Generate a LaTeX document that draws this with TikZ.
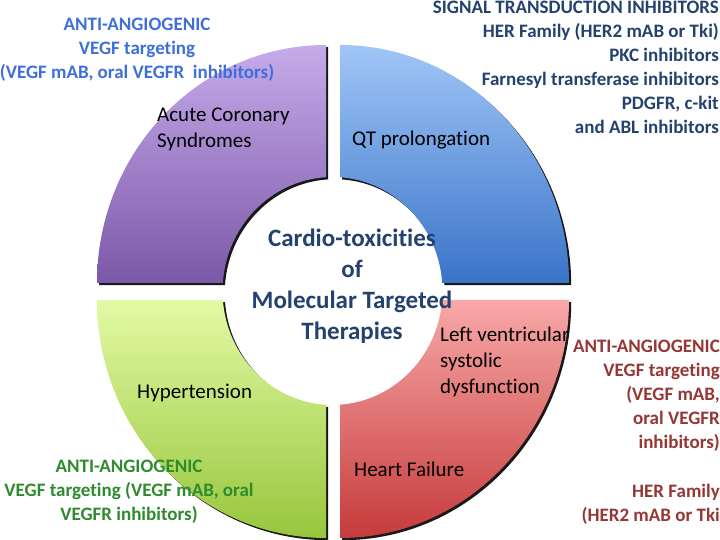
\documentclass[tikz,border=0pt]{standalone}
\usepackage{fontspec}
\setmainfont{Carlito}[Ligatures=NoCommon]
\usepackage{xcolor}
\usetikzlibrary{shadows}
\definecolor{purpletop}{HTML}{C6ABEA}
\definecolor{purplebot}{HTML}{7B58A8}
\definecolor{bluetop}{HTML}{A0C6F7}
\definecolor{bluebot}{HTML}{3A74C8}
\definecolor{greentop}{HTML}{E3FAA4}
\definecolor{greenbot}{HTML}{97C63D}
\definecolor{redtop}{HTML}{F8A8A8}
\definecolor{redbot}{HTML}{C63B3B}
\definecolor{vegfblue}{HTML}{3F6FD8}
\definecolor{navytext}{HTML}{24426E}
\definecolor{vegfgreen}{HTML}{2E8B2E}
\definecolor{vegfred}{HTML}{953735}

\begin{document}
\begin{tikzpicture}[x=1pt, y=1pt,
    quad/.style 2 args={top color=#1, bottom color=#2,
      drop shadow={shadow xshift=2.2pt, shadow yshift=-2.2pt, fill=black, opacity=.9}},
    effect/.style={font=\fontsize{21}{26}\selectfont, align=left, anchor=west, inner sep=0pt},
    drug/.style={font=\bfseries\fontsize{19}{24}\selectfont, inner sep=0pt},
    title/.style={font=\bfseries\fontsize{25}{31}\selectfont, text=navytext, align=center, inner sep=0pt}]
  \useasboundingbox[fill=white] (0,0) rectangle (720,540);

  % four quarter rings round the hub
  \shade[quad={purpletop}{purplebot}] (326,362.8) -- (326,495)
    arc[start angle=90, end angle=180, x radius=229pt, y radius=238pt] -- (222.8,257)
    arc[start angle=175.98, end angle=93.39, x radius=110pt, y radius=114pt] -- cycle;
  \shade[quad={bluetop}{bluebot}] (340,362.7) -- (340,495)
    arc[start angle=90, end angle=0, x radius=229pt, y radius=238pt] -- (442.2,257)
    arc[start angle=4.02, end angle=86.09, x radius=110pt, y radius=114pt] -- cycle;
  \shade[quad={greentop}{greenbot}] (222.8,240) -- (97,240)
    arc[start angle=180, end angle=270, x radius=229pt, y radius=238pt] -- (326,135.2)
    arc[start angle=266.61, end angle=184.53, x radius=110pt, y radius=114pt] -- cycle;
  \shade[quad={redtop}{redbot}] (442.2,240) -- (569,240)
    arc[start angle=0, end angle=-90, x radius=229pt, y radius=238pt] -- (340,135.3)
    arc[start angle=-86.09, end angle=-4.53, x radius=110pt, y radius=114pt] -- cycle;

  % centre title
  \node[title] (hub) at (352,254) {Cardio-toxicities\\of\\Molecular Targeted\\Therapies};

  % effects inside the rings
  \node[effect] (acs) at (157,410.5) {Acute Coronary\\Syndromes};
  \node[effect] (qt) at (352,400) {QT prolongation};
  \node[effect] (htn) at (137,147) {Hypertension};
  \node[effect] (lvsd) at (440,178) {Left ventricular\\systolic\\dysfunction};
  \node[effect] (hf) at (354,71) {Heart Failure};

  % drug classes outside
  \node[drug, text=vegfblue, align=center] (drugtl) at (137,490)
    {ANTI-ANGIOGENIC\\VEGF targeting\\(VEGF mAB, oral VEGFR~~inhibitors)};
  \node[drug, text=navytext, align=right, anchor=east] (drugtr) at (719,473)
    {SIGNAL TRANSDUCTION INHIBITORS\\HER Family (HER2 mAB or Tki)\\PKC inhibitors\\Farnesyl transferase inhibitors\\PDGFR, c-kit\\and ABL inhibitors};
  \node[drug, text=vegfgreen, align=center] (drugbl) at (129,48)
    {ANTI-ANGIOGENIC\\VEGF targeting (VEGF mAB, oral\\VEGFR inhibitors)};
  \node[drug, text=vegfred, align=right, anchor=east] (drugbr) at (720,144)
    {ANTI-ANGIOGENIC\\VEGF targeting\\(VEGF mAB,\\oral VEGFR\\inhibitors)};
  \node[drug, text=vegfred, align=right, anchor=east] (drugher) at (720,35.5)
    {HER Family\\(HER2 mAB or Tki};
\end{tikzpicture}
\end{document}
